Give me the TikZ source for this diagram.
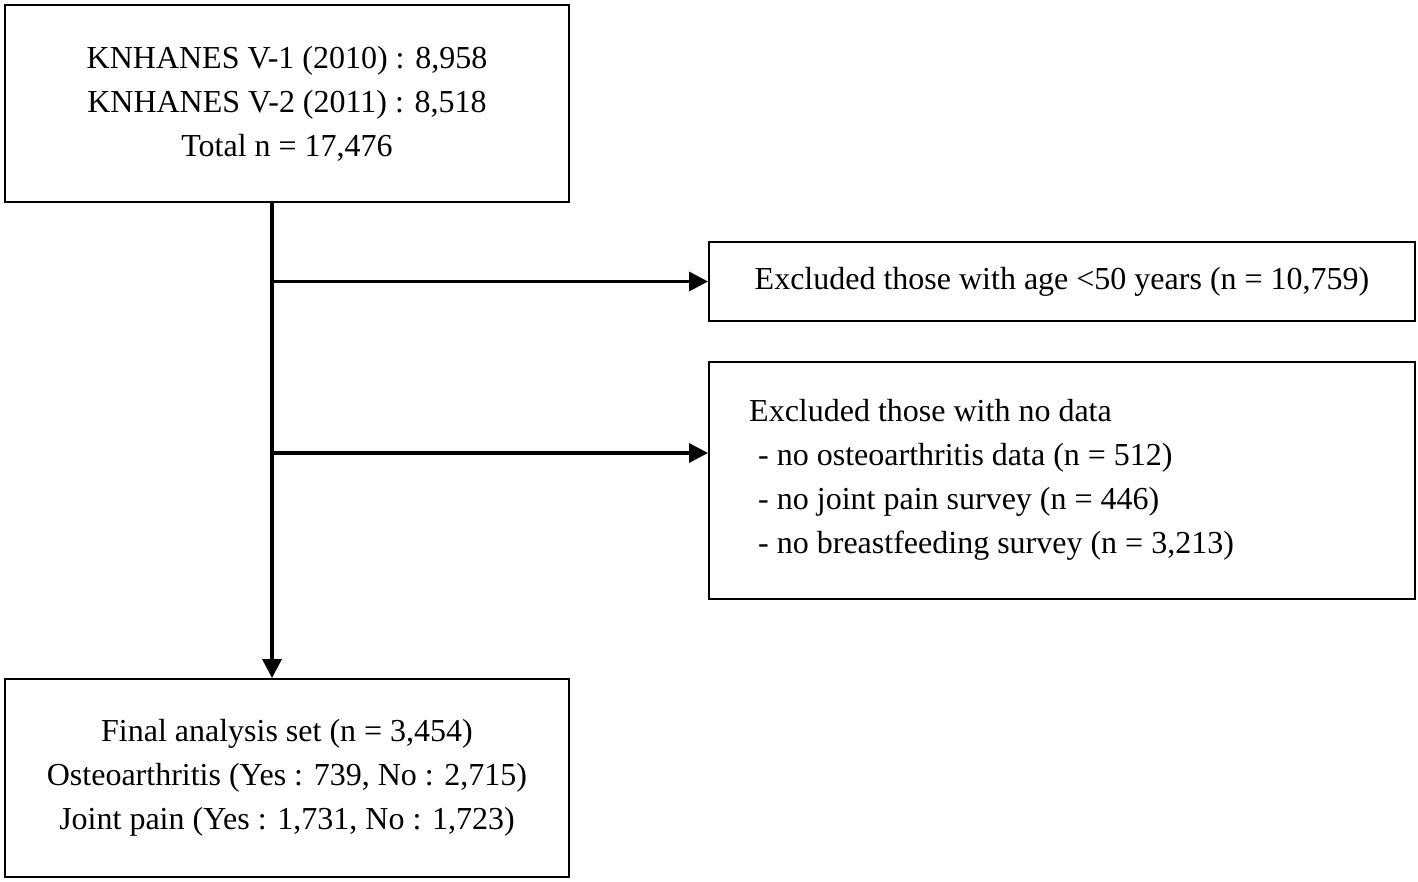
\documentclass[tikz,border=0pt]{standalone}
\usepackage{fontspec}
\setmainfont{Liberation Serif}
\usetikzlibrary{arrows.meta}
\begin{document}
\begin{tikzpicture}[x=1pt,y=-1pt,
  txt/.style={align=center, inner sep=0pt, font=\fontsize{32}{44}\selectfont},
  box/.style={txt, draw=black, line width=2pt, fill=white},
  conn/.style={line width=3.5pt, -{Triangle[length=19pt,width=19pt]}}]
\useasboundingbox[fill=white] (0,0) rectangle (1418,882);
\node[box, minimum width=564pt, minimum height=197pt] (top) at (287,103.5)
  {KNHANES V-1 (2010) : 8,958\\KNHANES V-2 (2011) : 8,518\\Total n = 17,476};
\node[box, minimum width=706pt, minimum height=79pt] (ex1) at (1062,281.5)
  {Excluded those with age <50 years (n = 10,759)};
\node[box, minimum width=706pt, minimum height=237pt] (ex2) at (1062,480.5) {};
\node[txt, align=left, anchor=west] (ex2t) at ([xshift=41pt,yshift=1pt]ex2.west)
  {Excluded those with no data\\
   \hspace*{9pt}- no osteoarthritis data (n = 512)\\
   \hspace*{9pt}- no joint pain survey (n = 446)\\
   \hspace*{9pt}- no breastfeeding survey (n = 3,213)};
\node[box, minimum width=564pt, minimum height=198pt] (bot) at (287,778)
  {Final analysis set (n = 3,454)\\Osteoarthritis (Yes : 739, No : 2,715)\\Joint pain (Yes : 1,731, No : 1,723)};
\coordinate (v) at (272,0);
\draw[conn] (top.south -| v) -- (bot.north -| v);
\draw[conn] (v |- ex1.west) -- (ex1.west);
\coordinate (j2) at (272,453);
\draw[conn] (j2) -- (j2 -| ex2.west);
\end{tikzpicture}
\end{document}
